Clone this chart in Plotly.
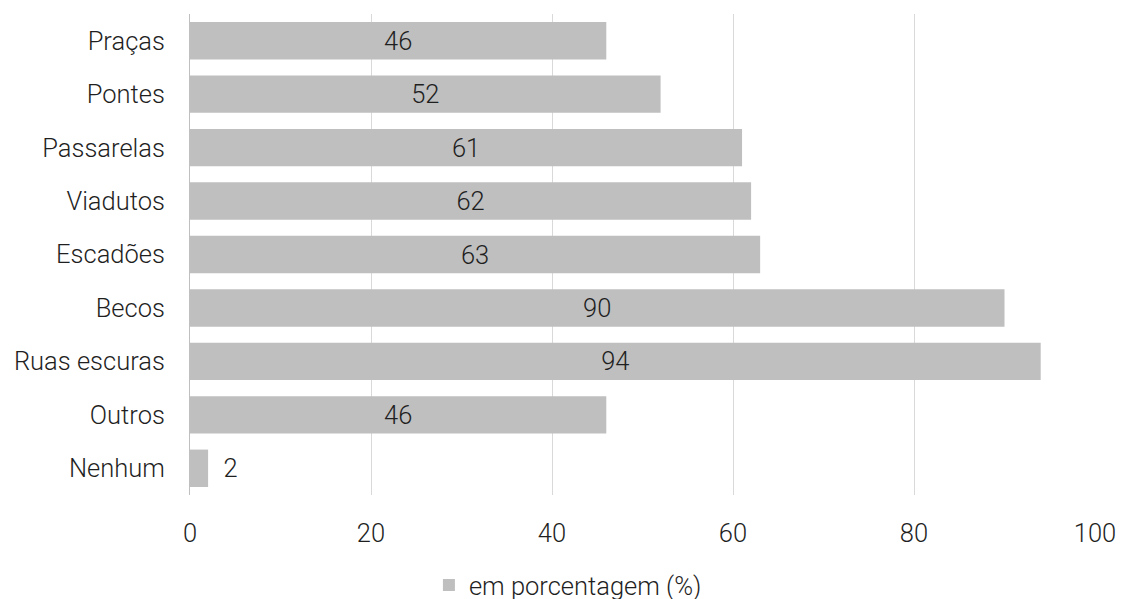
import plotly.graph_objects as go

categories = ["Praças", "Pontes", "Passarelas", "Viadutos", "Escadões", "Becos", "Ruas escuras", "Outros", "Nenhum"]
values = [46, 52, 61, 62, 63, 90, 94, 46, 2]
series_name = "em porcentagem (%)"
tick_vals = [0, 20, 40, 60, 80, 100]

FONT = "Roboto"
TXT = "#1f1f1f"
FS = 25.5

positions = ["inside" if v > 10 else "outside" for v in values]
templates = ["%{x}" if p == "inside" else "\u00a0\u00a0%{x}" for p in positions]
tf = dict(family=FONT, size=FS, color=TXT, weight=300)

fig = go.Figure(go.Bar(
    y=categories, x=values, orientation="h",
    name=series_name,
    marker=dict(color="#bfbfbf", line=dict(width=0)),
    width=0.7,
    texttemplate=templates,
    textposition=positions,
    insidetextanchor="middle",
    textfont=tf, outsidetextfont=tf, insidetextfont=tf,
    cliponaxis=False,
    showlegend=True,
    hoverinfo="x+y",
))

fig.update_layout(
    width=1125, height=599,
    margin=dict(l=182, r=38, t=6, b=112, autoexpand=False),
    paper_bgcolor="white", plot_bgcolor="white",
    font=tf,
    legend=dict(orientation="h", x=0.264, xanchor="left", y=-0.188, yanchor="middle",
                font=tf, itemwidth=30, bgcolor="rgba(0,0,0,0)"),
)
fig.update_xaxes(range=[0, 100], tickvals=tick_vals, showgrid=True, gridcolor="#d9d9d9", gridwidth=1,
                 zeroline=False, showline=False, ticks="", ticklabelstandoff=20, automargin=False,
                 tickfont=tf)
fig.update_yaxes(categoryorder="array", categoryarray=categories[::-1], autorange=True,
                 showline=True, linecolor="#bfbfbf", linewidth=1, ticks="", ticklabelstandoff=19,
                 automargin=False, tickfont=tf)

fig.write_html("out.html")
